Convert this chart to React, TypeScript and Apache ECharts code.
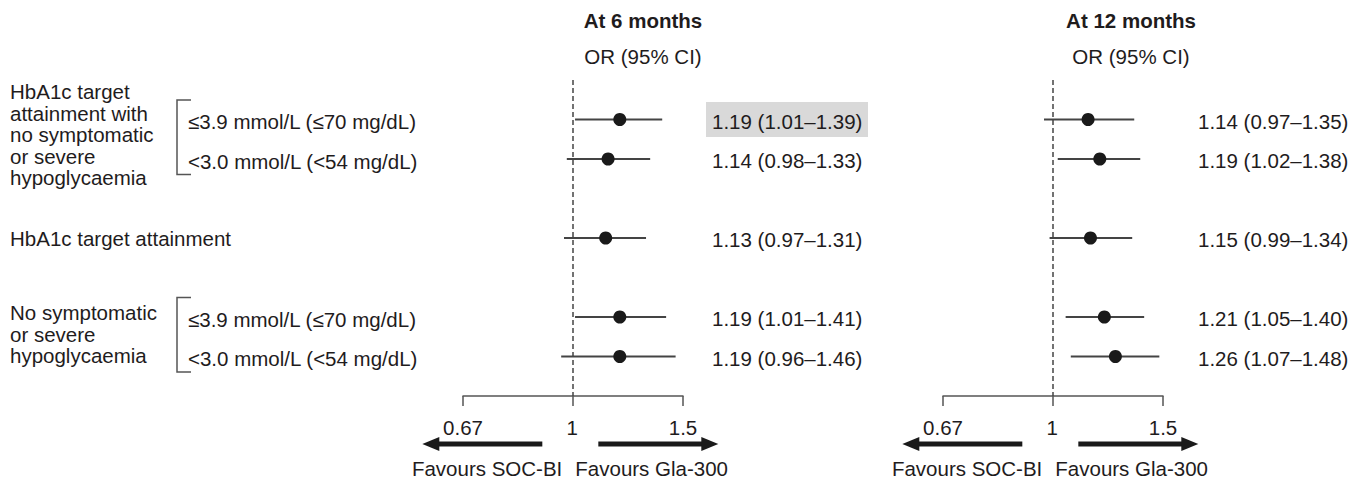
import React, { useEffect, useRef } from "react";
import * as echarts from "echarts";

// ---------- data ----------
const rowIndex = [0, 1, 3, 5, 6];
const or6 = [1.19, 1.14, 1.13, 1.19, 1.19];
const lo6 = [1.01, 0.98, 0.97, 1.01, 0.96];
const hi6 = [1.39, 1.33, 1.31, 1.41, 1.46];
const or12 = [1.14, 1.19, 1.15, 1.21, 1.26];
const lo12 = [0.97, 1.02, 0.99, 1.05, 1.07];
const hi12 = [1.35, 1.38, 1.34, 1.4, 1.48];
const highlight6 = [true, false, false, false, false];
const highlight12 = [false, false, false, false, false];
const tickValues = [0.67, 1, 1.5];
const panelTitles = ["At 6 months", "At 12 months"];
const columnTitle = "OR (95% CI)";
const subLabelA = "≤3.9 mmol/L (≤70 mg/dL)";
const subLabelB = "<3.0 mmol/L (<54 mg/dL)";
const group1Label = "HbA1c target\nattainment with\nno symptomatic\nor severe\nhypoglycaemia";
const group2Label = "No symptomatic\nor severe\nhypoglycaemia";
const singleLabel = "HbA1c target attainment";
const favoursLeft = "Favours SOC-BI";
const favoursRight = "Favours Gla-300";

// ---------- layout ----------
const FONT = "'Liberation Sans', Arial, Helvetica, sans-serif";
const FS = 20.5;
const TXT = "#1f1c1d";
const GRID_TOP = 80;
const ROW_H = 39.5;
const AXIS_MIN = Math.log(tickValues[0]);
const AXIS_MAX = Math.log(tickValues[2]);
const panels = [
  { left: 463, width: 220, valueX: 712, headerX: 643 },
  { left: 943, width: 220, valueX: 1198, headerX: 1131 },
];
const rowY = (r: number) => GRID_TOP + (r + 1) * ROW_H;
const axisPx = (p: { left: number; width: number }, v: number) =>
  p.left + ((Math.log(v) - AXIS_MIN) / (AXIS_MAX - AXIS_MIN)) * p.width;

const fmt = (v: number) => v.toFixed(2);

function buildSeries() {
  const sets = [
    { or: or6, lo: lo6, hi: hi6, hl: highlight6 },
    { or: or12, lo: lo12, hi: hi12, hl: highlight12 },
  ];
  const series: any[] = [];
  sets.forEach((s, i) => {
    const p = panels[i];
    // CI lines
    series.push({
      type: "custom",
      xAxisIndex: i,
      yAxisIndex: i,
      clip: false,
      silent: true,
      data: rowIndex.map((r, k) => [Math.log(s.lo[k]), r, Math.log(s.hi[k])]),
      renderItem: (params: any, api: any) => {
        const a = api.coord([api.value(0), api.value(1)]);
        const b = api.coord([api.value(2), api.value(1)]);
        return {
          type: "line",
          shape: { x1: a[0], y1: a[1], x2: b[0], y2: b[1] },
          style: { stroke: "#444444", lineWidth: 2 },
        };
      },
      z: 2,
    });
    // points + reference line
    series.push({
      type: "scatter",
      xAxisIndex: i,
      yAxisIndex: i,
      symbol: "circle",
      symbolSize: 13,
      itemStyle: { color: "#1a1a1a", opacity: 1 },
      silent: true,
      data: rowIndex.map((r, k) => [Math.log(s.or[k]), r]),
      z: 3,
      markLine: {
        silent: true,
        symbol: ["none", "none"],
        label: { show: false },
        lineStyle: { color: "#444444", width: 1.5, type: [5, 3], opacity: 1 },
        data: [{ xAxis: 0 }],
        z: 1,
      },
    });
    // value labels
    series.push({
      type: "custom",
      xAxisIndex: i,
      yAxisIndex: i,
      clip: false,
      silent: true,
      data: rowIndex.map((r, k) => [Math.log(s.or[k]), r]),
      renderItem: (params: any, api: any) => {
        const k = params.dataIndex;
        const y = api.coord([api.value(0), api.value(1)])[1];
        const x = p.valueX;
        const children: any[] = [];
        if (s.hl[k]) {
          children.push({
            type: "rect",
            shape: { x: x - 6, y: y - 17.5, width: 162, height: 35 },
            style: { fill: "#d9d9d9" },
          });
        }
        children.push({
          type: "text",
          style: {
            text: `${fmt(s.or[k])} (${fmt(s.lo[k])}–${fmt(s.hi[k])})`,
            x,
            y: y + 1.5,
            fill: TXT,
            fontSize: FS,
            fontFamily: FONT,
            align: "left",
            verticalAlign: "middle",
          },
        });
        return { type: "group", children };
      },
      z: 1,
    });
  });
  return series;
}

function txt(text: string, x: number, y: number, extra: any = {}) {
  return {
    type: "text",
    x,
    y,
    silent: true,
    style: {
      text,
      fill: TXT,
      fontSize: FS,
      fontFamily: FONT,
      align: extra.align || "left",
      textAlign: extra.align || "left",
      verticalAlign: extra.verticalAlign || "middle",
      textVerticalAlign: extra.verticalAlign || "middle",
      fontWeight: extra.fontWeight || "normal",
      lineHeight: extra.lineHeight,
    },
  };
}

function bracket(rTop: number, rBot: number) {
  const top = rowY(rTop) - 19.5;
  const bot = rowY(rBot) + 15.5;
  return {
    type: "polyline",
    silent: true,
    shape: { points: [[191, top], [177, top], [177, bot], [191, bot]] },
    style: { stroke: "#555555", lineWidth: 1.5, fill: null },
  };
}

function arrows(p: { left: number; width: number }) {
  const cx = axisPx(p, 1);
  const y = 444;
  const els: any[] = [];
  els.push({
    type: "line",
    silent: true,
    shape: { x1: cx - 30, y1: y, x2: cx - 136, y2: y },
    style: { stroke: "#1a1a1a", lineWidth: 5 },
  });
  els.push({
    type: "polygon",
    silent: true,
    shape: { points: [[cx - 150, y], [cx - 133, y - 7], [cx - 133, y + 7]] },
    style: { fill: "#1a1a1a" },
  });
  els.push({
    type: "line",
    silent: true,
    shape: { x1: cx + 26, y1: y, x2: cx + 132, y2: y },
    style: { stroke: "#1a1a1a", lineWidth: 5 },
  });
  els.push({
    type: "polygon",
    silent: true,
    shape: { points: [[cx + 146, y], [cx + 129, y - 7], [cx + 129, y + 7]] },
    style: { fill: "#1a1a1a" },
  });
  els.push(txt(favoursLeft, cx - 10, 468, { align: "right" }));
  els.push(txt(favoursRight, cx + 3, 468, { align: "left" }));
  return els;
}

function buildGraphic() {
  const g: any[] = [];
  panels.forEach((p, i) => {
    g.push(txt(panelTitles[i], p.headerX, 20, { align: "center", fontWeight: "bold" }));
    g.push(txt(columnTitle, p.headerX, 56, { align: "center" }));
    arrows(p).forEach((e) => g.push(e));
  });
  g.push(txt(group1Label, 10, rowY(0) - 38.5, { verticalAlign: "top", lineHeight: 21.5 }));
  g.push(txt(group2Label, 10, rowY(5) - 15, { verticalAlign: "top", lineHeight: 21.5 }));
  g.push(txt(singleLabel, 10, rowY(3)));
  g.push(bracket(0, 1));
  g.push(bracket(5, 6));
  g.push(txt(subLabelA, 188, rowY(0) + 2));
  g.push(txt(subLabelB, 188, rowY(1) + 2));
  g.push(txt(subLabelA, 188, rowY(5) + 2));
  g.push(txt(subLabelB, 188, rowY(6) + 2));
  return g;
}

export default function App() {
  const ref = useRef<HTMLDivElement>(null);
  useEffect(() => {
    if (!ref.current) return;
    const chart = echarts.init(ref.current, undefined, { renderer: "svg" });
    const tickLog = tickValues.map((v) => Math.log(v));
    const option: any = {
      animation: false,
      backgroundColor: "#ffffff",
      textStyle: { fontFamily: FONT },
      grid: panels.map((p) => ({
        left: p.left,
        width: p.width,
        top: GRID_TOP,
        height: ROW_H * 8,
        containLabel: false,
      })),
      xAxis: panels.map((p, i) => ({
        type: "value",
        gridIndex: i,
        min: AXIS_MIN,
        max: AXIS_MAX,
        splitLine: { show: false },
        axisLine: { show: true, onZero: false, lineStyle: { color: "#555555", width: 1.5 } },
        axisTick: {
          show: true,
          length: 10,
          customValues: tickLog,
          lineStyle: { color: "#555555", width: 1.5 },
        },
        axisLabel: {
          show: true,
          customValues: tickLog,
          showMinLabel: true,
          showMaxLabel: true,
          margin: 21,
          fontSize: FS,
          color: TXT,
          fontFamily: FONT,
          formatter: (v: number) => String(Number(Math.exp(v).toFixed(2))),
        },
      })),
      yAxis: panels.map((p, i) => ({
        type: "value",
        gridIndex: i,
        min: -1,
        max: 7,
        inverse: true,
        show: false,
      })),
      series: buildSeries(),
      graphic: buildGraphic(),
    };
    chart.setOption(option);
    return () => chart.dispose();
  }, []);
  return (
    <div
      ref={ref}
      style={{ position: "fixed", left: 0, top: 0, width: 1363, height: 481, background: "#fff" }}
    />
  );
}
